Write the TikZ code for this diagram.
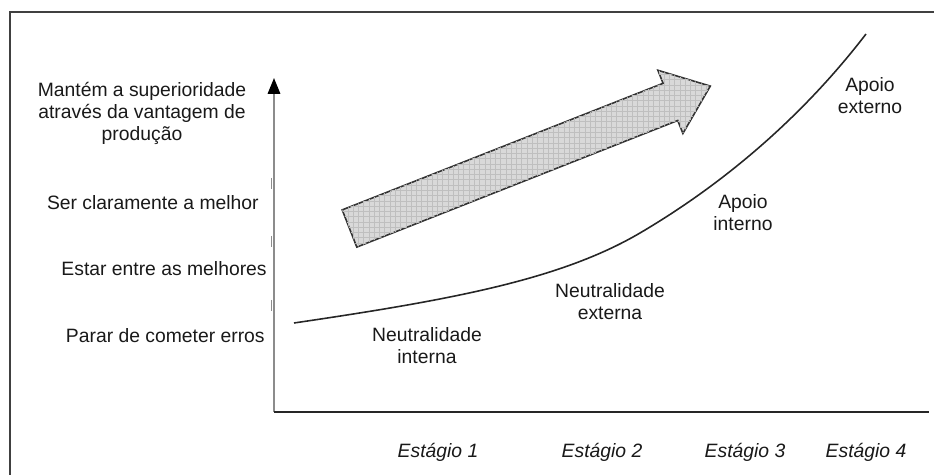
\documentclass[tikz,border=0pt]{standalone}
\usepackage{fontspec}
\setmainfont{Liberation Sans}
\usetikzlibrary{arrows.meta,positioning,calc,patterns}

\begin{document}
\begin{tikzpicture}[>=Triangle,x=0.02cm,y=-0.02cm,
  lab/.style={font=\fontsize{11}{12.5}\selectfont,text=black!90,align=center,inner sep=0pt},
  stg/.style={lab,font=\fontsize{11}{12.5}\selectfont\itshape},
  bigarrow/.style={draw=black!80,line width=0.9pt,fill=gray!30,
    postaction={pattern=grid,pattern color=black!25}}]
  \useasboundingbox (0,0) rectangle (934,475);
  \clip (0,0) rectangle (934,475);
  \draw[line width=1.2pt,black!75] (10,490) -- (10,12) -- (950,12);
  % axes
  \coordinate (o) at (274,412);
  \coordinate (ytop) at (274,78);
  \coordinate (xend) at (929,412);
  \draw[line width=1.2pt,black!45,-{Triangle[length=9pt,width=7pt,color=black]}] (o) -- (ytop);
  \draw[line width=1.2pt,black!85] (o) -- (xend);
  \foreach \y in {178,236,300} {
    \draw[line width=1pt,black!45] (271.5,\y) -- (271.5,\y+11);
  }
  % levels
  \node[lab] (topo) at (142,113) {Mantém a superioridade\\através da vantagem de\\produção};
  \node[lab,anchor=east] (melhor) at (259,203) {Ser claramente a melhor};
  \node[lab,anchor=east] (entre) at (267,269) {Estar entre as melhores};
  \node[lab,anchor=east] (erros) at (265,336) {Parar de cometer erros};
  % big arrow
  \draw[bigarrow] (342.2,209.9) -- (663.1,83.3) -- (657.9,70.3) -- (710.3,86.1)
    -- (682.9,133.5) -- (677.7,120.5) -- (356.8,247.1) -- cycle;
  % curve
  \draw[line width=0.9pt,black!85] (294,323) .. controls (450,300) and (560,280) .. (640,233)
    .. controls (720,186) and (800,120) .. (866,34);
  \node[lab] (ni) at (427,346) {Neutralidade\\interna};
  \node[lab] (ne) at (610,302) {Neutralidade\\externa};
  \node[lab] (ai) at (743,213) {Apoio\\interno};
  \node[lab] (ae) at (870,96) {Apoio\\externo};
  % stages
  \foreach \x/\n in {438/1,602/2,745/3,866/4} {
    \node[stg] (st\n) at (\x,452) {Estágio \n};
  }
\end{tikzpicture}
\end{document}
